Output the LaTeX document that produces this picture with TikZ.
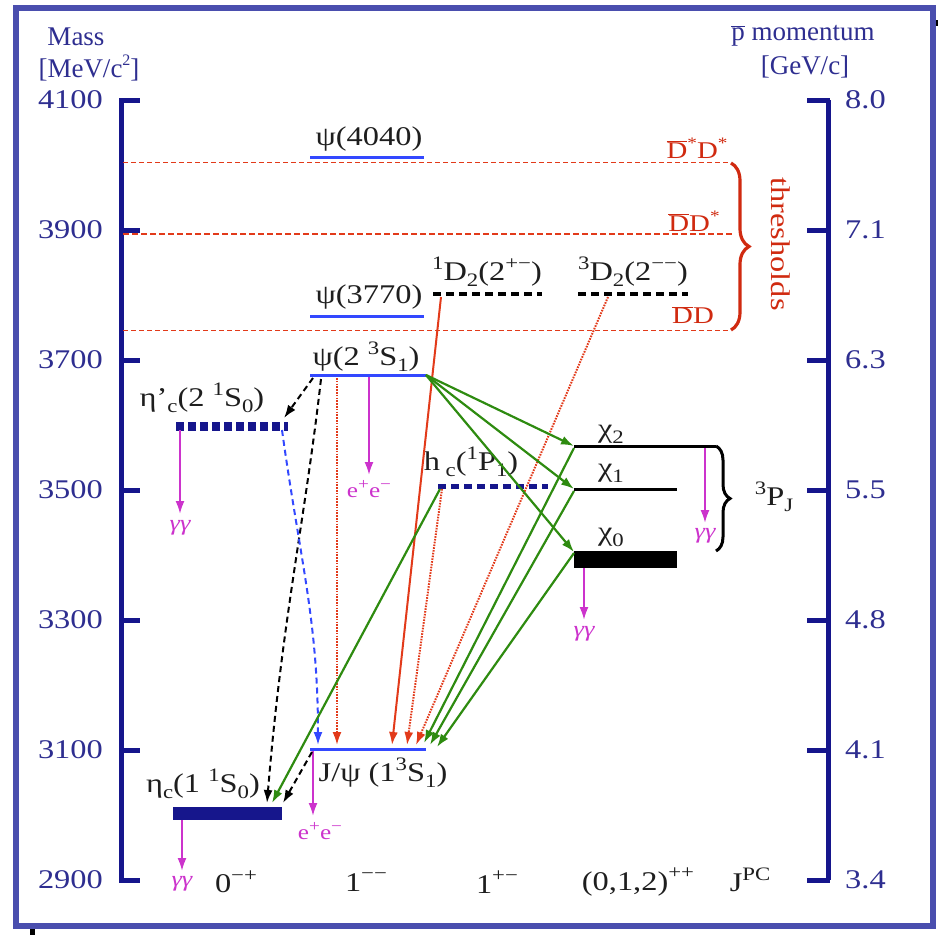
\documentclass[tikz,border=0pt]{standalone}
\usepackage{fontspec}
\setmainfont{Liberation Serif}
\newfontfamily\wide{Liberation Serif}[FakeStretch=1.2]
\usetikzlibrary{arrows.meta,decorations.pathreplacing}
\definecolor{framec}{HTML}{4A4EAE}
\definecolor{navy}{HTML}{16168C}
\definecolor{axtxt}{HTML}{2E2E90}
\definecolor{lvlblue}{HTML}{3348FF}
\definecolor{thr}{HTML}{E23A1A}
\definecolor{thrtxt}{HTML}{D02A10}
\definecolor{grn}{HTML}{2E8B10}
\definecolor{mag}{HTML}{CC33CC}
\definecolor{txt}{HTML}{1E1E1E}
\newcommand{\up}[1]{\raisebox{0.42em}{\fontsize{19}{19}\selectfont #1}}
\newcommand{\dn}[1]{\raisebox{-0.22em}{\fontsize{19}{19}\selectfont #1}}
\newcommand{\sml}[1]{\raisebox{0.42em}{\fontsize{16}{16}\selectfont #1}}
\newcommand{\ovl}[1]{$\overline{\mbox{#1}}$}
\tikzset{
  x=1pt, y=-1pt,
  lbl/.style={font=\wide\fontsize{27}{30}\selectfont, text=txt, inner sep=0pt},
  axlbl/.style={font=\fontsize{27}{30}\selectfont, text=axtxt, inner sep=0pt},
  axnum/.style={font=\wide\fontsize{27}{30}\selectfont, text=axtxt, inner sep=0pt},
  gglbl/.style={font=\wide\fontsize{21}{24}\selectfont, text=mag, inner sep=0pt},
  gamlbl/.style={font=\wide\itshape\fontsize{22}{24}\selectfont, text=mag, inner sep=0pt},
  thrlbl/.style={font=\wide\fontsize{24}{28}\selectfont, text=thrtxt, inner sep=0pt},
  axis/.style={navy, line width=5pt},
  bluelvl/.style={lvlblue, line width=3pt},
  blacklvl/.style={black, line width=3pt},
  ddash/.style={black, line width=4pt, dash pattern=on 8pt off 5pt},
  thin thr/.style={thr, line width=1pt, dash pattern=on 5pt off 3pt},
  thick thr/.style={thr, line width=2pt, dash pattern=on 6pt off 3pt},
  tip/.style={-{Latex[length=13pt,width=9pt]}},
  decay/.style={tip, mag, line width=2pt},
  gtr/.style={tip, grn, line width=2.2pt},
  kdash/.style={tip, black, line width=2pt, dash pattern=on 6pt off 4pt},
  bdash/.style={tip, lvlblue, line width=2pt, dash pattern=on 6pt off 4pt},
  rdot/.style={tip, thr, line width=2pt, dash pattern=on 1.6pt off 1.2pt},
  rsol/.style={tip, thr, line width=2pt},
}
\begin{document}
\begin{tikzpicture}
\useasboundingbox (0,0) rectangle (938,935);
% frame
\fill[black] (30,926) rectangle (35,935);
\fill[black] (933,20) rectangle (938,26);
\draw[framec, line width=6pt] (16,8) rectangle (933,926);

% axes titles
\node[axlbl] (mass) at (76,37) {Mass};
\node[axlbl] (massu) at (89,68) {[MeV/c\sml{2}]};
\node[axlbl] (mom) at (803,36) {\ovl{p} momentum};
\node[axlbl] (momu) at (805,67) {[GeV/c]};

% left axis
\draw[axis] (121,100) -- (121,880);
\foreach \y/\m in {100/4100,230/3900,360/3700,490/3500,620/3300,750/3100,880/2900}{
  \draw[axis] (119,\y) -- (140,\y);
  \node[axnum, anchor=east] at (103,\y) {\m};
}
% right axis
\draw[axis] (828,100) -- (828,880);
\foreach \y/\m in {100/8.0,230/7.1,360/6.3,490/5.5,620/4.8,750/4.1,880/3.4}{
  \draw[axis] (807,\y) -- (830,\y);
  \node[axnum, anchor=west] at (845,\y) {\m};
}

% thresholds
\draw[thin thr] (123,162) -- (730,162);
\draw[thick thr] (123,234) -- (732,234);
\draw[thin thr] (123,330) -- (730,330);
\node[thrlbl] (tDsDs) at (697,148) {\ovl{D}\sml{*}D\sml{*}};
\node[thrlbl] (tDDs) at (694,221) {\ovl{D}D\sml{*}};
\node[thrlbl] (tDD) at (693,315) {\ovl{D}D};
\draw[thrtxt, line width=3.2pt, decorate, decoration={brace, amplitude=18pt}] (731,163) -- (731,330);
\node[thrlbl, font=\wide\fontsize{27}{30}\selectfont, rotate=-90] (thrs) at (781,244) {thresholds};

% level coordinates
\coordinate (p40L) at (310,157); \coordinate (p40R) at (424,157);
\coordinate (p37L) at (310,316); \coordinate (p37R) at (424,316);
\coordinate (d1L) at (433,294); \coordinate (d1R) at (542,294);
\coordinate (d3L) at (578,294); \coordinate (d3R) at (688,294);
\coordinate (p2L) at (310,375); \coordinate (p2R) at (426,375);
\coordinate (etpL) at (176,426); \coordinate (etpR) at (288,426);
\coordinate (hcL) at (438,486); \coordinate (hcR) at (548,486);
\coordinate (c2L) at (574,446); \coordinate (c2R) at (716,446);
\coordinate (c1L) at (574,489); \coordinate (c1R) at (677,489);
\coordinate (c0L) at (574,559); \coordinate (c0R) at (677,559);
\coordinate (jpL) at (310,749); \coordinate (jpR) at (426,749);
\coordinate (etL) at (173,813); \coordinate (etR) at (282,813);

% levels
\draw[bluelvl] (p40L) -- (p40R);
\draw[bluelvl] (p37L) -- (p37R);
\draw[bluelvl] (p2L) -- (p2R);
\draw[bluelvl] (jpL) -- (jpR);
\draw[ddash] (d1L) -- (d1R);
\draw[ddash] (d3L) -- (d3R);
\draw[navy, line width=9pt, dash pattern=on 7.5pt off 4.5pt] (etpL) -- (etpR);
\draw[navy, line width=5pt, dash pattern=on 8pt off 5pt] (hcL) -- (hcR);
\draw[blacklvl] (c2L) -- (c2R);
\draw[blacklvl] (c1L) -- (c1R);
\draw[black, line width=17pt] (c0L) -- (c0R);
\draw[navy, line width=13pt] (etL) -- (etR);

% level labels
\node[lbl] (lp40) at (369,139) {ψ(4040)};
\node[lbl] (lp37) at (369,297) {ψ(3770)};
\node[lbl] (ld1) at (487,272) {\up{1}D\dn{2}(2\up{+−})};
\node[lbl] (ld3) at (633,272) {\up{3}D\dn{2}(2\up{−−})};
\node[lbl] (lp2) at (366,357) {ψ(2 \up{3}S\dn{1})};
\node[lbl] (letp) at (202,398) {η’\dn{c}(2 \up{1}S\dn{0})};
\node[lbl] (lhc) at (471,462) {h\dn{ c}(\up{1}P\dn{1})};
\node[lbl] (lc2) at (611,434) {χ\dn{2}};
\node[lbl] (lc1) at (611,473) {χ\dn{1}};
\node[lbl] (lc0) at (611,537) {χ\dn{0}};
\node[lbl] (ljp) at (383,773) {J/ψ (1\up{3}S\dn{1})};
\node[lbl] (let) at (203,784) {η\dn{c}(1 \up{1}S\dn{0})};

% 3PJ brace
\draw[black, line width=3pt, decorate, decoration={brace, amplitude=14pt}] (716,446) -- (716,551);
\node[lbl] (lpj) at (774,497) {\up{3}P\dn{J}};

% decays
\coordinate (gA) at (180,514); \coordinate (eA) at (369,475);
\coordinate (gB) at (705,523); \coordinate (gC) at (584,620);
\coordinate (gD) at (182,871); \coordinate (eB) at (313,816);
\draw[decay] (180,430) -- (gA);
\node[gamlbl] at (180,528) {γγ};
\draw[decay] (369,377) -- (eA);
\node[gglbl] at (369,489) {e\sml{+}e\sml{−}};
\draw[decay] (705,448) -- (gB);
\node[gamlbl] at (705,536) {γγ};
\draw[decay] (584,568) -- (gC);
\node[gamlbl] at (584,634) {γγ};
\draw[decay] (182,820) -- (gD);
\node[gamlbl] at (182,884) {γγ};
\draw[decay] (313,751) -- (eB);
\node[gglbl] at (320,831) {e\sml{+}e\sml{−}};

% transitions
\coordinate (t1) at (284,418);
\draw[kdash] (313,378) -- (t1);
\coordinate (t2) at (267,803);
\draw[kdash] (321,379) .. controls (305,520) and (282,620) .. (t2);
\coordinate (t3) at (283,803);
\draw[kdash] (312,752) -- (t3);
\coordinate (t4) at (318,745);
\draw[bdash] (282,430) .. controls (300,560) and (318,620) .. (t4);
\coordinate (t5) at (337,745);
\draw[rdot] (337,378) -- (t5);
\coordinate (t6) at (392,745);
\draw[rsol] (441,297) -- (t6);
\coordinate (t7) at (407,745);
\draw[rdot] (442,489) -- (t7);
\coordinate (t8) at (416,745);
\draw[rdot] (608,297) -- (t8);
\draw[gtr] (p2R) -- (c2L);
\draw[gtr] (p2R) -- (c1L);
\draw[gtr] (p2R) -- (574,552);
\coordinate (t9) at (424,743);
\coordinate (t10) at (430,745);
\coordinate (t11) at (437,747);
\draw[gtr] (574,448) -- (t9);
\draw[gtr] (574,491) -- (t10);
\draw[gtr] (574,553) -- (t11);
\coordinate (t12) at (272,803);
\draw[gtr] (440,489) -- (t12);

% JPC labels
\node[lbl] (j0) at (236,882) {0\up{−+}};
\node[lbl] (j1) at (366,882) {1\up{−−}};
\node[lbl] (j2) at (497,882) {1\up{+−}};
\node[lbl] (j3) at (638,882) {(0,1,2)\up{++}};
\node[lbl] (j4) at (750,880) {J\up{PC}};
\end{tikzpicture}
\end{document}
